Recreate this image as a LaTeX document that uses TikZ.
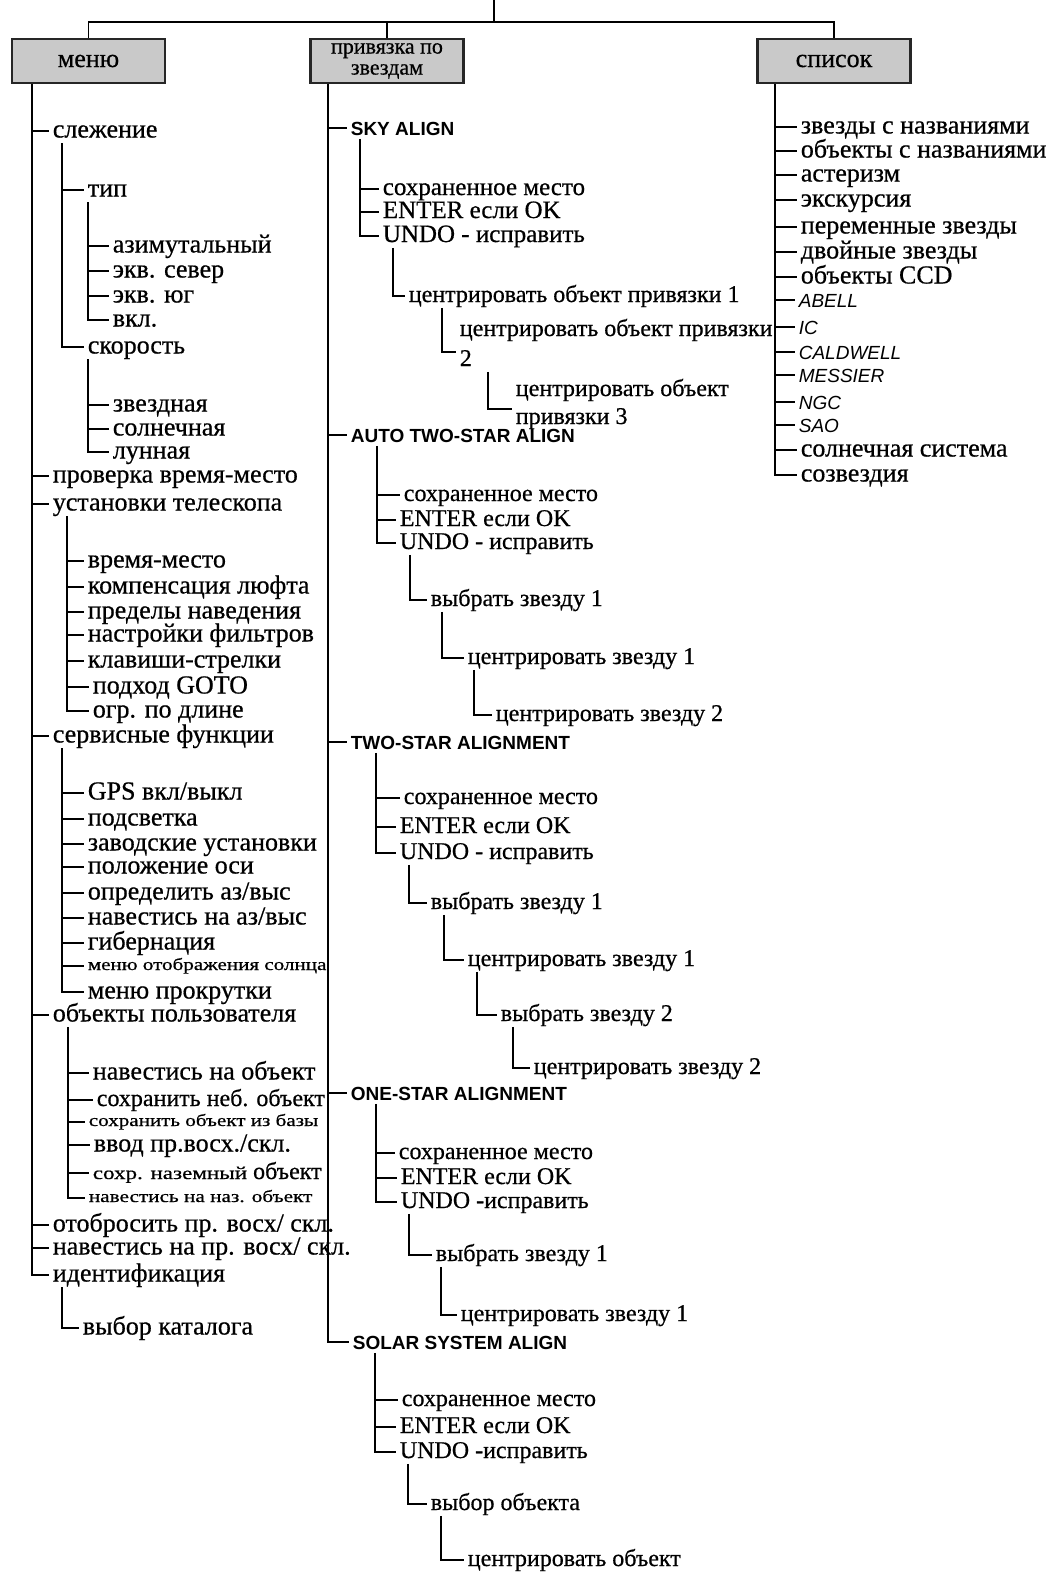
\documentclass[tikz,border=0pt]{standalone}
\usepackage{fontspec}
\setmainfont{Liberation Serif}[FakeBold=0.6]
\newfontfamily\sansf{Liberation Sans}
\begin{document}
\begin{tikzpicture}[x=1pt,y=-1pt,line width=1.7pt]
\tikzset{
 tx/.style={anchor=west, inner xsep=3pt, inner ysep=0pt, font=\fontsize{26}{26}\selectfont, text height=18pt, text depth=5pt},
 txs/.style={tx, font=\fontsize{24}{24}\selectfont, text height=17pt, text depth=5pt},
 txk/.style={tx, font=\fontsize{25}{25}\selectfont, text height=17pt, text depth=5pt},
 txm/.style={tx, font=\fontsize{17}{17}\selectfont, text height=12pt, text depth=4pt},
 hd/.style={tx, font=\sansf\bfseries\fontsize{19}{19}\selectfont, text height=17pt, text depth=3pt},
 itx/.style={tx, font=\sansf\itshape\fontsize{19}{19}\selectfont, text height=17pt, text depth=3pt},
 mbox/.style={draw=black!85, line width=2.4pt, fill=gray!42, minimum width=153pt, minimum height=44pt, inner sep=0pt, align=center, font=\fontsize{26}{26}\selectfont}
}
\useasboundingbox (0,0) rectangle (1054,1572);
% ---------- top ----------
\coordinate (root) at (494,0);
\coordinate (hub) at (494,22);
\node[mbox] (menu) at (88.5,61) {меню};
\node[mbox, font=\fontsize{22}{21}\selectfont] (align) at (387,61) {привязка по\\звездам};
\node[mbox] (list) at (834,61) {список};
\draw (root) -- (hub);
\draw (menu.north) |- (list.north |- hub) -- (list.north);
\draw (align.north) -- (align.north |- hub);
% ---------- vertical x coordinates ----------
\foreach \n/\x in {vL/32,v1/62,v1a/88,v1b/88,v3/67,v4/62,v5/68,v8/62,
  vM/328,vS1/360,vS2/393,vS3/442,vS4/488,vA1/377,vA2/410,vA3/442,vA4/474,
  vT1/376,vT2/409,vT3/444,vT4/477,vT5/513,vO1/376,vO2/409,vO3/441,
  vP1/375,vP2/408,vP3/441,vR/775}
  \coordinate (\n) at (\x,0);
% ---------- left column ----------
\node[tx] (l1) at (49,131) {слежение};
\node[tx] (l1a) at (84,190) {тип};
\node[tx] (l1a1) at (109,246) {азимутальный};
\node[tx] (l1a2) at (109,271) {экв. север};
\node[tx] (l1a3) at (109,296) {экв. юг};
\node[tx] (l1a4) at (109,320) {вкл.};
\node[tx] (l1b) at (84,347) {скорость};
\node[tx] (l1b1) at (109,405) {звездная};
\node[tx] (l1b2) at (109,429) {солнечная};
\node[tx] (l1b3) at (109,452) {лунная};
\node[tx] (l2) at (49,476) {проверка время-место};
\node[tx] (l3) at (49,504) {установки телескопа};
\node[tx] (l3a) at (84,561) {время-место};
\node[tx] (l3b) at (84,587) {компенсация люфта};
\node[tx] (l3c) at (84,612) {пределы наведения};
\node[tx] (l3d) at (84,635) {настройки фильтров};
\node[tx] (l3e) at (84,661) {клавиши-стрелки};
\node[tx] (l3f) at (89,687) {подход GOTO};
\node[tx] (l3g) at (89,711) {огр. по длине};
\node[tx] (l4) at (49,736) {сервисные функции};
\node[tx] (l4a) at (84,793) {GPS вкл/выкл};
\node[tx] (l4b) at (84,819) {подсветка};
\node[tx] (l4c) at (84,844) {заводские установки};
\node[tx] (l4d) at (84,867) {положение оси};
\node[tx] (l4e) at (84,893) {определить аз/выс};
\node[tx] (l4f) at (84,918) {навестись на аз/выс};
\node[tx] (l4g) at (84,943) {гибернация};
\node[txm] (l4h) at (84,966) {\scalebox{1.24}[1]{меню отображения солнца}};
\node[tx] (l4i) at (84,992) {меню прокрутки};
\node[tx] (l5) at (49,1015) {объекты пользователя};
\node[tx] (l5a) at (89,1073) {навестись на объект};
\node[txs] (l5b) at (93,1100) {сохранить неб. объект};
\node[txm] (l5c) at (85,1122) {\scalebox{1.24}[1]{сохранить объект из базы}};
\node[tx] (l5d) at (90,1145) {ввод пр.восх./скл.};
\node[txs] (l5e) at (89,1173) {{\fontsize{18}{18}\selectfont\scalebox{1.28}[1]{сохр. наземный}} объект};
\node[txm] (l5f) at (85,1198) {\scalebox{1.25}[1]{навестись на наз. объект}};
\node[tx] (l6) at (49,1225) {отобросить пр. восх/ скл.};
\node[tx] (l7) at (49,1248) {навестись на пр. восх/ скл.};
\node[tx] (l8) at (49,1275) {идентификация};
\node[tx] (l8a) at (79,1328) {выбор каталога};
% left connectors
\draw (vL |- menu.south) |- (l8.west);
\draw (v1 |- l1.south) |- (l1b.west);
\draw (v1a |- l1a.south) |- (l1a4.west);
\draw (v1b |- l1b.south) |- (l1b3.west);
\draw (v3 |- l3.south) |- (l3g.west);
\draw (v4 |- l4.south) |- (l4i.west);
\draw (v5 |- l5.south) |- (l5f.west);
\draw (v8 |- l8.south) |- (l8a.west);
\foreach \v/\n in {vL/l1,vL/l2,vL/l3,vL/l4,vL/l5,vL/l6,vL/l7,
  v1/l1a,v1a/l1a1,v1a/l1a2,v1a/l1a3,v1b/l1b1,v1b/l1b2,
  v3/l3a,v3/l3b,v3/l3c,v3/l3d,v3/l3e,v3/l3f,
  v4/l4a,v4/l4b,v4/l4c,v4/l4d,v4/l4e,v4/l4f,v4/l4g,v4/l4h,
  v5/l5a,v5/l5b,v5/l5c,v5/l5d,v5/l5e}
  \draw (\v |- \n.west) -- (\n.west);
% ---------- middle column ----------
\node[hd] (m1) at (347,128) {SKY ALIGN};
\node[txk] (m1a) at (379,189) {сохраненное место};
\node[txk] (m1b) at (379,212) {ENTER если OK};
\node[txk] (m1c) at (379,236) {UNDO - исправить};
\node[txs] (m1d) at (405,296) {центрировать объект привязки 1};
\node[txs] (m1e) at (456,330) {центрировать объект привязки};
\node[txs] (m1f) at (456,360) {2};
\node[txs] (m1g) at (512,390) {центрировать объект};
\node[txs] (m1h) at (512,418) {привязки 3};
\node[hd] (m2) at (347,435) {AUTO TWO-STAR ALIGN};
\node[txs] (m2a) at (400,495) {сохраненное место};
\node[txs] (m2b) at (396,520) {ENTER если OK};
\node[txs] (m2c) at (396,543) {UNDO - исправить};
\node[txs] (m2d) at (427,600) {выбрать звезду 1};
\node[txs] (m2e) at (464,658) {центрировать звезду 1};
\node[txs] (m2f) at (492,715) {центрировать звезду 2};
\node[hd] (m3) at (347,742) {TWO-STAR ALIGNMENT};
\node[txs] (m3a) at (400,798) {сохраненное место};
\node[txs] (m3b) at (396,827) {ENTER если OK};
\node[txs] (m3c) at (396,853) {UNDO - исправить};
\node[txs] (m3d) at (427,903) {выбрать звезду 1};
\node[txs] (m3e) at (464,960) {центрировать звезду 1};
\node[txs] (m3f) at (497,1015) {выбрать звезду 2};
\node[txs] (m3g) at (530,1068) {центрировать звезду 2};
\node[hd] (m4) at (347,1093) {ONE-STAR ALIGNMENT};
\node[txs] (m4a) at (395,1153) {сохраненное место};
\node[txs] (m4b) at (397,1178) {ENTER если OK};
\node[txs] (m4c) at (397,1202) {UNDO -исправить};
\node[txs] (m4d) at (432,1255) {выбрать звезду 1};
\node[txs] (m4e) at (457,1315) {центрировать звезду 1};
\node[hd] (m5) at (349,1342) {SOLAR SYSTEM ALIGN};
\node[txs] (m5a) at (398,1400) {сохраненное место};
\node[txs] (m5b) at (396,1427) {ENTER если OK};
\node[txs] (m5c) at (396,1452) {UNDO -исправить};
\node[txs] (m5d) at (427,1504) {выбор объекта};
\node[txs] (m5e) at (464,1560) {центрировать объект};
% middle connectors
\draw (vM |- align.south) |- (m5.west);
\draw (vS1 |- m1.south) |- (m1c.west);
\draw (vS2 |- m1c.south) |- (m1d.west);
\draw (vS3 |- m1d.south) |- ([yshift=8pt]m1f.west);
\draw (vS4 |- m1f.south) |- ([yshift=9pt]m1h.west);
\draw (vA1 |- m2.south) |- (m2c.west);
\draw (vA2 |- m2c.south) |- (m2d.west);
\draw (vA3 |- m2d.south) |- (m2e.west);
\draw (vA4 |- m2e.south) |- (m2f.west);
\draw (vT1 |- m3.south) |- (m3c.west);
\draw (vT2 |- m3c.south) |- (m3d.west);
\draw (vT3 |- m3d.south) |- (m3e.west);
\draw (vT4 |- m3e.south) |- (m3f.west);
\draw (vT5 |- m3f.south) |- (m3g.west);
\draw (vO1 |- m4.south) |- (m4c.west);
\draw (vO2 |- m4c.south) |- (m4d.west);
\draw (vO3 |- m4d.south) |- (m4e.west);
\draw (vP1 |- m5.south) |- (m5c.west);
\draw (vP2 |- m5c.south) |- (m5d.west);
\draw (vP3 |- m5d.south) |- (m5e.west);
\foreach \v/\n in {vM/m1,vM/m2,vM/m3,vM/m4,vS1/m1a,vS1/m1b,
  vA1/m2a,vA1/m2b,vT1/m3a,vT1/m3b,vO1/m4a,vO1/m4b,vP1/m5a,vP1/m5b}
  \draw (\v |- \n.west) -- (\n.west);
% ---------- right column ----------
\node[tx] (r1) at (797,127) {звезды с названиями};
\node[tx] (r2) at (797,151) {объекты с названиями};
\node[tx] (r3) at (797,175) {астеризм};
\node[tx] (r4) at (797,200) {экскурсия};
\node[tx] (r5) at (797,227) {переменные звезды};
\node[tx] (r6) at (797,252) {двойные звезды};
\node[tx] (r7) at (797,277) {объекты CCD};
\node[itx] (r8) at (795,300) {ABELL};
\node[itx] (r9) at (795,327) {IC};
\node[itx] (r10) at (795,352) {CALDWELL};
\node[itx] (r11) at (795,375) {MESSIER};
\node[itx] (r12) at (795,402) {NGC};
\node[itx] (r13) at (795,425) {SAO};
\node[tx] (r14) at (797,450) {солнечная система};
\node[tx] (r15) at (797,475) {созвездия};
\draw (vR |- list.south) |- (r15.west);
\foreach \n in {r1,r2,r3,r4,r5,r6,r7,r8,r9,r10,r11,r12,r13,r14}
  \draw (vR |- \n.west) -- (\n.west);
\end{tikzpicture}
\end{document}
